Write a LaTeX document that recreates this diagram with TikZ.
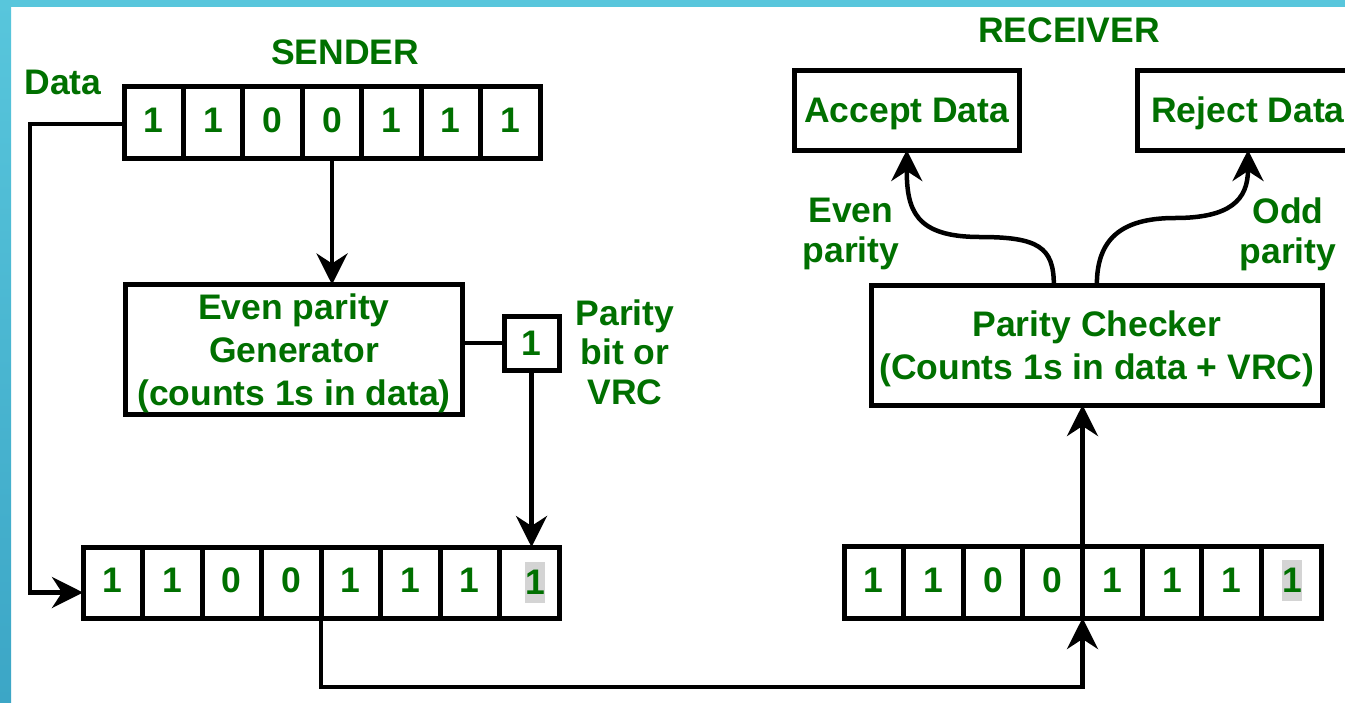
\documentclass[tikz,border=0pt]{standalone}
\usepackage{fontspec}
\setmainfont{Liberation Sans}
\usetikzlibrary{arrows.meta,calc}
\definecolor{txtgreen}{RGB}{0,112,0}
\definecolor{hlgray}{RGB}{212,212,212}
\definecolor{frametop}{RGB}{88,198,220}
\definecolor{framebot}{RGB}{60,166,198}
% invisible strut that balances the descender of the last line
\newcommand\capstrut{\rule{0pt}{33pt}}
\begin{document}
\begin{tikzpicture}[x=1pt,y=-1pt,
  txt/.style={text=txtgreen, font=\fontsize{35.5}{43}\selectfont\bfseries,
    inner sep=0pt, outer sep=0pt, align=center},
  box/.style={txt, draw=black, line width=5pt},
  cell/.style={box, minimum height=72pt, text depth=4pt},
  hilite/.style={txt, fill=hlgray, minimum width=19.5pt, minimum height=41pt, text depth=0pt},
  wire/.style={draw=black, line width=4.5pt},
  arrow/.style={wire, -{Stealth[length=31pt,width=31pt,inset=10pt]}}]
\useasboundingbox (0,0) rectangle (1345,702);
\clip (0,0) rectangle (1345,702);
\fill[white] (0,0) rectangle (1345,702);
% frame strips along the top and left edges
\fill[frametop] (0,0) rectangle (1345,7);
\shade[top color=frametop, bottom color=framebot] (0,0) rectangle (11,702);

% ---------- sender ----------
\node[txt] (sender) at (345,52) {SENDER};
\node[txt] (datalbl) at (63,82) {Data};
\foreach \d [count=\i] in {1,1,0,0,1,1,1}
  \node[cell, minimum width=59.43pt] (s\i) at ({124+59.43*(\i-0.5)},122) {\d};

\node[box, minimum width=336.3pt, minimum height=130pt] (gen) at (294,349.5)
  {\capstrut Even parity\\Generator\\(counts 1s in data)};
\node[box, minimum width=55pt, minimum height=54pt, text depth=0pt] (pb) at (531.5,343) {1};
\node[txt, font=\fontsize{35.5}{39.5}\selectfont\bfseries] (pbl) at (625,352) {Parity\\bit or\\VRC};

\foreach \d [count=\i] in {1,1,0,0,1,1,1}
  \node[cell, minimum width=59.5pt, minimum height=71pt] (b\i) at ({83+59.5*(\i-0.5)},582.5) {\d};
\node[cell, minimum width=59.5pt, minimum height=71pt] (b8) at ({83+59.5*7.5},582.5) {};
\node[hilite] (b8bit) at ([xshift=6pt]b8.center) {1};

% ---------- receiver ----------
\node[txt] (receiver) at (1069,30) {RECEIVER};
\foreach \d [count=\i] in {1,1,0,0,1,1,1}
  \node[cell, minimum width=59.625pt] (r\i) at ({844+59.625*(\i-0.5)},582) {\d};
\node[cell, minimum width=59.625pt] (r8) at ({844+59.625*7.5},582) {};
\node[hilite] (r8bit) at ([xshift=1pt,yshift=1.5pt]r8.center) {1};

\node[box, minimum width=451.7pt, minimum height=120pt] (chk) at (1096.85,345)
  {\capstrut Parity Checker\\(Counts 1s in data + VRC)};
\node[box, minimum width=224.5pt, minimum height=80pt, text depth=0pt] (acc) at (906.75,110) {Accept Data};
\node[box, minimum width=222pt, minimum height=80pt, text depth=0pt] (rej) at (1248,110) {Reject Data};
\node[txt, font=\fontsize{35.5}{40}\selectfont\bfseries] (evenlbl) at (851,234) {Even\\parity};
\node[txt, font=\fontsize{35.5}{40}\selectfont\bfseries] (oddlbl) at (1288,234) {Odd\\parity};

% ---------- connectors ----------
\draw[arrow] (s4.south) -- (s4.south |- gen.north);
\draw[wire] (pb.west) -- (pb.west -| gen.east);
\draw[arrow] (pb.south) -- (pb.south |- b8.north);
\draw[arrow] ([yshift=-2pt]s1.west) -- ++(-94,0) |- ([yshift=-10pt]b1.west);
\draw[arrow] (b4.south east) -- ++(0,69) -| (r4.south east);
\draw[arrow] (r4.north east) -- (r4.north east |- chk.south);
\coordinate (abend) at (980,237);
\coordinate (rbend) at (1175,218);
\draw[arrow] ([xshift=-43pt]chk.north) .. controls +(0,-38) and +(58,0) .. (abend)
  .. controls +(-65,0) and +(0,60) .. (acc.south);
\draw[arrow] (chk.north) .. controls +(0,-45) and +(-55,0) .. (rbend)
  .. controls +(55,0) and +(0,50) .. (rej.south);
\end{tikzpicture}
\end{document}
